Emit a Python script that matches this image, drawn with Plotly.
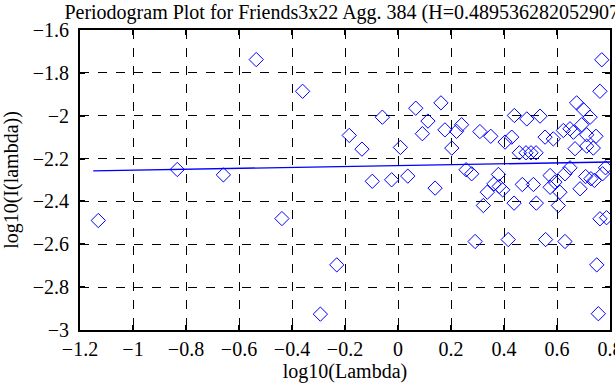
import plotly.graph_objects as go

title_text = "Periodogram Plot for Friends3x22 Agg. 384 (H=0.489536282052907)"
x_label = "log10(Lambda)"
y_label = "log10(I(lambda))"

log_lambda = [
    -1.131, -0.833, -0.659, -0.535, -0.438, -0.360, -0.293, -0.231, -0.184, -0.136,
    -0.097, -0.059, -0.024, 0.009, 0.037, 0.067, 0.092, 0.113, 0.140, 0.162,
    0.177, 0.203, 0.221, 0.240, 0.257, 0.278, 0.291, 0.309, 0.322, 0.337,
    0.350, 0.362, 0.379, 0.382, 0.395, 0.404, 0.416, 0.429, 0.439, 0.438,
    0.458, 0.469, 0.483, 0.486, 0.502, 0.511, 0.521, 0.522, 0.536, 0.555,
    0.557, 0.574, 0.574, 0.586, 0.592, 0.605, 0.611, 0.624, 0.630, 0.630,
    0.649, 0.649, 0.662, 0.668, 0.674, 0.687, 0.693, 0.699, 0.708, 0.712,
    0.712, 0.725, 0.728, 0.737, 0.741, 0.747, 0.750, 0.756, 0.762, 0.762,
    0.769, 0.772, 0.783, 0.787,
]
log_I = [
    -2.489, -2.251, -2.276, -1.738, -2.480, -1.886, -2.926, -2.696, -2.092, -2.156,
    -2.306, -2.007, -2.299, -2.148, -2.282, -1.965, -2.084, -2.025, -2.338, -1.940,
    -2.066, -2.151, -2.073, -2.042, -2.252, -2.271, -2.587, -2.074, -2.419, -2.357,
    -2.096, -2.318, -2.274, -2.330, -2.346, -2.123, -2.578, -2.100, -1.999, -2.408,
    -2.173, -2.321, -2.173, -2.015, -2.173, -2.321, -2.173, -2.408, -2.002, -2.100,
    -2.578, -2.279, -2.334, -2.108, -2.310, -2.419, -2.357, -2.069, -2.271, -2.587,
    -2.061, -2.243, -2.077, -2.154, -1.940, -2.341, -2.042, -1.971, -2.284, -2.089,
    -2.142, -2.007, -2.294, -2.151, -2.302, -2.096, -2.696, -2.924, -1.886, -2.481,
    -1.739, -2.271, -2.243, -2.476,
]

fit_x = [-1.15, 0.80]
fit_y = [-2.257, -2.216]

x_ticks = [-1.2, -1.0, -0.8, -0.6, -0.4, -0.2, 0.0, 0.2, 0.4, 0.6, 0.8]
y_ticks = [-3.0, -2.8, -2.6, -2.4, -2.2, -2.0, -1.8, -1.6]

BLUE = "#0000ff"
FONT = "Liberation Serif, Times New Roman, serif"
FS = 20

fig = go.Figure()
fig.add_trace(go.Scatter(
    x=log_lambda, y=log_I, mode="markers",
    marker=dict(symbol="diamond-open", size=11, color=BLUE, line=dict(width=1, color=BLUE)),
    showlegend=False, hoverinfo="x+y",
))
fig.add_trace(go.Scatter(
    x=fit_x, y=fit_y, mode="lines",
    line=dict(color=BLUE, width=1.3),
    showlegend=False,
))

axis_common = dict(
    showline=True, linecolor="black", linewidth=2, mirror="ticks",
    ticks="inside", ticklen=5, tickwidth=2, tickcolor="black",
    showgrid=True, gridcolor="black", gridwidth=1, griddash="dash",
    zeroline=False, automargin=False, ticklabeloverflow="allow",
    tickfont=dict(family=FONT, size=FS, color="black"),
    title_font=dict(family=FONT, size=FS, color="black"),
)

fig.update_xaxes(range=[-1.2, 0.8], tickvals=x_ticks, title_text=x_label,
                 title_standoff=4, **axis_common)
fig.update_yaxes(range=[-3.0, -1.6], tickvals=y_ticks, title_text=y_label,
                 title_standoff=10, ticklabelstandoff=5, **axis_common)

fig.update_layout(
    width=615, height=385,
    margin=dict(l=80, r=5, t=30, b=55),
    paper_bgcolor="white", plot_bgcolor="white",
    title=dict(text=title_text, x=0.561, xanchor="center", y=0.988, yanchor="top",
               font=dict(family=FONT, size=FS, color="black")),
    font=dict(family=FONT, color="black"),
)

fig.write_html(
    "out.html",
    config={"displayModeBar": False},
    post_script="document.body.style.margin='0';document.body.style.overflow='hidden';",
)
